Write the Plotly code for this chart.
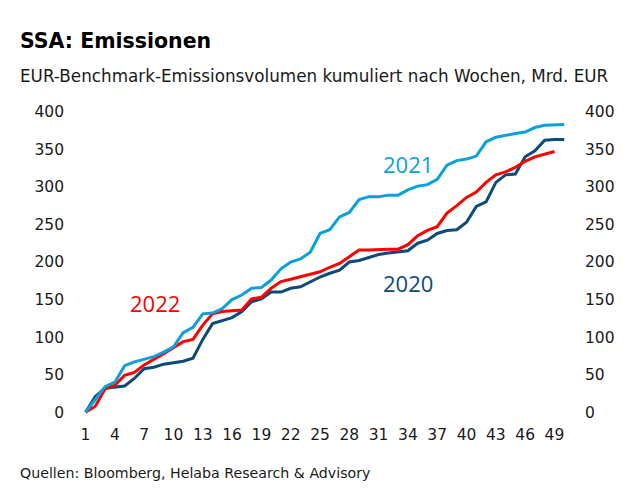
import plotly.graph_objects as go

# ---- data ----
weeks_2020 = list(range(1, 51))
values_2020 = [0, 21, 32, 34, 35, 45, 58, 60, 64, 66, 68, 72, 97, 118, 122, 126, 134, 147, 151, 160,
               160, 165, 167, 174, 180, 185, 189, 200, 202, 206, 210, 212, 213, 215, 225, 229, 238, 242, 243, 253,
               274, 280, 306, 316, 317, 340, 348, 362, 363, 363]
weeks_2021 = list(range(1, 51))
values_2021 = [0, 17, 34, 40, 62, 67, 71, 74, 80, 87, 106, 113, 131, 132, 138, 150, 156, 165, 166, 176,
               191, 200, 204, 213, 238, 243, 260, 266, 283, 287, 287, 289, 289, 296, 301, 303, 310, 329, 335, 337,
               341, 360, 366, 369, 371, 373, 379, 382, 383, 383]
weeks_2022 = list(range(1, 50))
values_2022 = [0, 8, 31, 36, 49, 53, 63, 70, 78, 86, 94, 97, 116, 131, 134, 135, 136, 151, 153, 165,
               174, 177, 180, 184, 187, 193, 198, 207, 216, 216, 217, 217, 217, 223, 235, 242, 247, 265, 275, 286,
               293, 306, 316, 320, 326, 334, 340, 343, 347]
series_names = ["2020", "2021", "2022"]
y_tick_values = [0, 50, 100, 150, 200, 250, 300, 350, 400]
x_tick_values = list(range(1, 50, 3))

title = "SSA: Emissionen"
subtitle = "EUR-Benchmark-Emissionsvolumen kumuliert nach Wochen, Mrd. EUR"
source = "Quellen: Bloomberg, Helaba Research & Advisory"

# label positions (data coordinates)
label_pos = {"2020": (34.0, 172), "2021": (34.0, 331), "2022": (8.1, 146)}

C2020 = "#0d4a78"
C2021 = "#0aa0dc"
C2022 = "#ff0000"
TXT = "#1a1a1a"
FONT = "DejaVu Sans"
LABEL_FONT = "Open Sans"

# page offset (default body margin of the html page)
OFF = 8
W, H = 627 - OFF, 498 - OFF
L, R, T, B = 66 - OFF, 53, 108 - OFF, 82
PW, PH = W - L - R, H - T - B


def px_x(px):
    return (px - OFF - L) / PW


def px_y(py):
    return (H - B - (py - OFF)) / PH


fig = go.Figure()
fig.add_trace(go.Scatter(x=weeks_2020, y=values_2020, mode="lines", name=series_names[0],
                         line=dict(color=C2020, width=3), yaxis="y"))
fig.add_trace(go.Scatter(x=weeks_2022, y=values_2022, mode="lines", name=series_names[2],
                         line=dict(color=C2022, width=3), yaxis="y"))
fig.add_trace(go.Scatter(x=weeks_2021, y=values_2021, mode="lines", name=series_names[1],
                         line=dict(color=C2021, width=3), yaxis="y2"))

ax_font = dict(family=FONT, size=15.5, color=TXT)
fig.update_layout(
    width=W, height=H,
    margin=dict(l=L, r=R, t=T, b=B, autoexpand=False),
    paper_bgcolor="white", plot_bgcolor="white",
    showlegend=False,
    font=dict(family=FONT, color=TXT),
    xaxis=dict(range=[-1, 51], tickmode="array", tickvals=x_tick_values,
               ticktext=[str(v) for v in x_tick_values], showgrid=False, zeroline=False,
               showline=False, ticks="", tickfont=ax_font, ticklabelstandoff=7),
    yaxis=dict(range=[-5, 405], tickmode="array", tickvals=y_tick_values, showgrid=False,
               zeroline=False, showline=False, ticks="", tickfont=ax_font, ticklabelstandoff=1),
    yaxis2=dict(range=[-5, 405], overlaying="y", side="right", tickmode="array",
                tickvals=y_tick_values, showgrid=False, zeroline=False, showline=False, ticks="",
                tickfont=ax_font, ticklabelstandoff=10),
)

annotations = [
    dict(text="<b>" + title + "</b>", x=px_x(18), y=px_y(41), xref="paper", yref="paper",
         xanchor="left", yanchor="middle", showarrow=False, font=dict(family=FONT, size=20.5, color="#000")),
    dict(text=subtitle, x=px_x(18), y=px_y(76), xref="paper", yref="paper",
         xanchor="left", yanchor="middle", showarrow=False, font=dict(family=FONT, size=16.8, color=TXT)),
    dict(text=source, x=px_x(18), y=px_y(473), xref="paper", yref="paper",
         xanchor="left", yanchor="middle", showarrow=False, font=dict(family=FONT, size=14.2, color=TXT)),
]
for name, col in zip(series_names, [C2020, C2021, C2022]):
    x, y = label_pos[name]
    annotations.append(dict(text=name, x=x, y=y, xref="x", yref="y", showarrow=False,
                            xanchor="center", yanchor="middle",
                            font=dict(family=LABEL_FONT, size=22, color=col)))
fig.update_layout(annotations=annotations)

fig.write_html("out.html")
